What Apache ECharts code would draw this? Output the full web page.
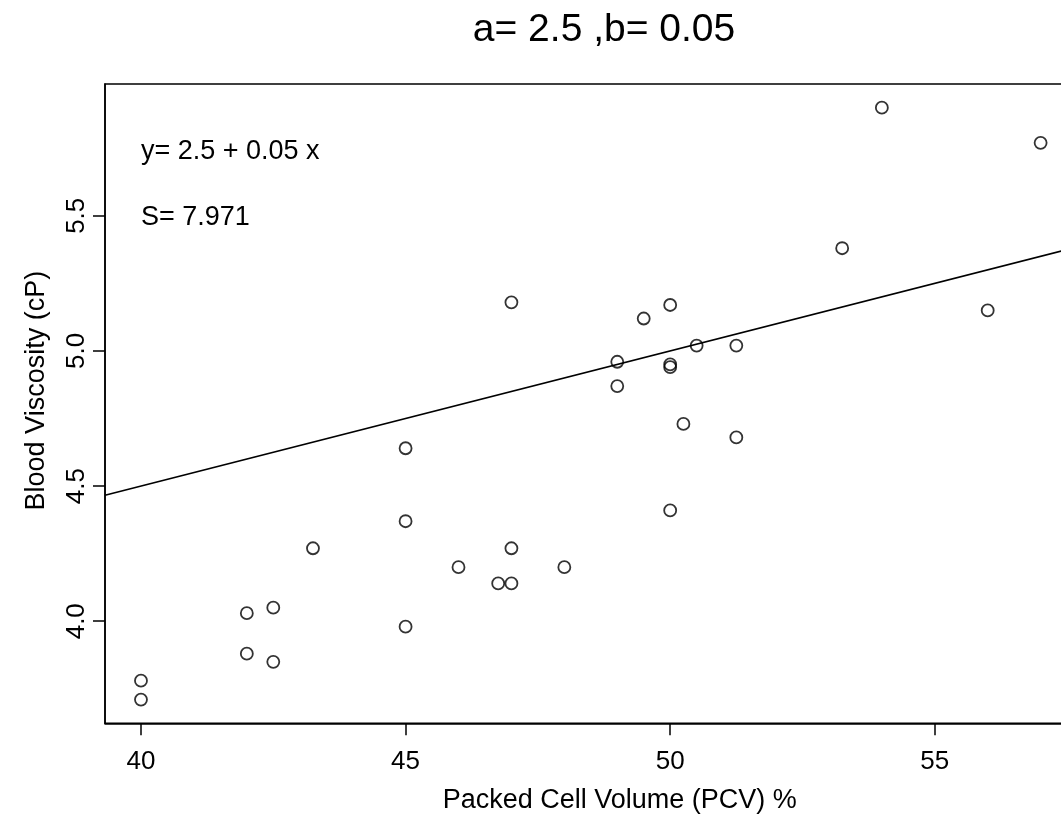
<!DOCTYPE html>
<html>
<head>
<meta charset="utf-8">
<script src="https://cdn.jsdelivr.net/npm/echarts@6/dist/echarts.min.js"></script>
<style>
html,body{margin:0;padding:0;background:#fff;}
#chart{width:1061px;height:828px;}
</style>
</head>
<body>
<div id="chart"></div>
<script>
// ---- data ----
const pcv = [40, 40, 42, 42, 42.5, 42.5, 43.25, 45, 45, 45, 46, 47, 46.75, 47, 48, 50, 50.25, 51.25, 49, 49, 50, 50, 47, 49.5, 50, 50.5, 51.25, 53.25, 54, 57, 56];
const viscosity = [3.78, 3.71, 4.03, 3.88, 4.05, 3.85, 4.27, 4.64, 4.37, 3.98, 4.20, 4.27, 4.14, 4.14, 4.20, 4.41, 4.73, 4.68, 4.87, 4.96, 4.94, 4.95, 5.18, 5.12, 5.17, 5.02, 5.02, 5.38, 5.90, 5.77, 5.15];
const xTicks = [40, 45, 50, 55];
const yTicks = [4.0, 4.5, 5.0, 5.5];
const intercept = 2.5;
const slope = 0.05;
const sValue = '7.971';
const titleText = 'a= 2.5 ,b= 0.05';
const xName = 'Packed Cell Volume (PCV) %';
const yName = 'Blood Viscosity (cP)';

// R-style 4% axis extension
function ext(arr){const mn=Math.min(...arr),mx=Math.max(...arr),r=mx-mn;return [mn-0.04*r,mx+0.04*r];}
const [xMin,xMax]=ext(pcv);
const [yMin,yMax]=ext(viscosity);
const points = pcv.map((x,i)=>[x,viscosity[i]]);
const fitLine = [[xMin, intercept+slope*xMin],[xMax, intercept+slope*xMax]];

const FONT = '"Liberation Sans", Arial, Helvetica, sans-serif';
const chart = echarts.init(document.getElementById('chart'), null, {renderer:'canvas'});
chart.setOption({
  animation:false,
  backgroundColor:'#fff',
  title:{
    text:titleText, left:599, top:6, textAlign:'center',
    textStyle:{fontFamily:FONT,fontSize:39,fontWeight:'normal',color:'#000'}
  },
  grid:{left:105, top:84, width:971.6, height:639.3, outerBoundsMode:'none', containLabel:false,
        show:true, borderColor:'#000', borderWidth:1.5, backgroundColor:'transparent'},
  xAxis:{
    type:'value', min:xMin, max:xMax,
    name:xName, nameLocation:'middle', nameGap:64,
    nameTextStyle:{fontFamily:FONT,fontSize:27,color:'#000',padding:[0,0,0,58]},
    axisLine:{show:true,onZero:false,lineStyle:{color:'#000',width:1.5}},
    axisTick:{show:true,length:12,customValues:xTicks,lineStyle:{color:'#000',width:1.5}},
    axisLabel:{customValues:xTicks,margin:26,fontFamily:FONT,fontSize:26,color:'#000'},
    splitLine:{show:false}
  },
  yAxis:{
    type:'value', min:yMin, max:yMax,
    name:yName, nameLocation:'middle', nameGap:55,
    nameTextStyle:{fontFamily:FONT,fontSize:27,color:'#000',padding:[0,0,0,26]},
    axisLine:{show:true,onZero:false,lineStyle:{color:'#000',width:1.5}},
    axisTick:{show:true,length:12,customValues:yTicks,lineStyle:{color:'#000',width:1.5}},
    axisLabel:{customValues:yTicks,rotate:90,margin:15,fontFamily:FONT,fontSize:26,color:'#000',
      formatter:v=>v.toFixed(1)},
    splitLine:{show:false}
  },
  graphic:[
    {type:'text',left:141,top:138,style:{text:'y= '+intercept+' + '+slope+' x',font:'27px '+FONT,fill:'#000'}},
    {type:'text',left:141,top:204,style:{text:'S= '+sValue,font:'27px '+FONT,fill:'#000'}}
  ],
  series:[
    {type:'line',data:fitLine,symbol:'none',clip:true,lineStyle:{color:'#000',width:1.6},z:2},
    {type:'scatter',data:points,symbol:'circle',symbolSize:12,
     itemStyle:{color:'rgba(255,255,255,0)',borderColor:'#000',borderWidth:1.8},z:3}
  ]
});
</script>
</body>
</html>
